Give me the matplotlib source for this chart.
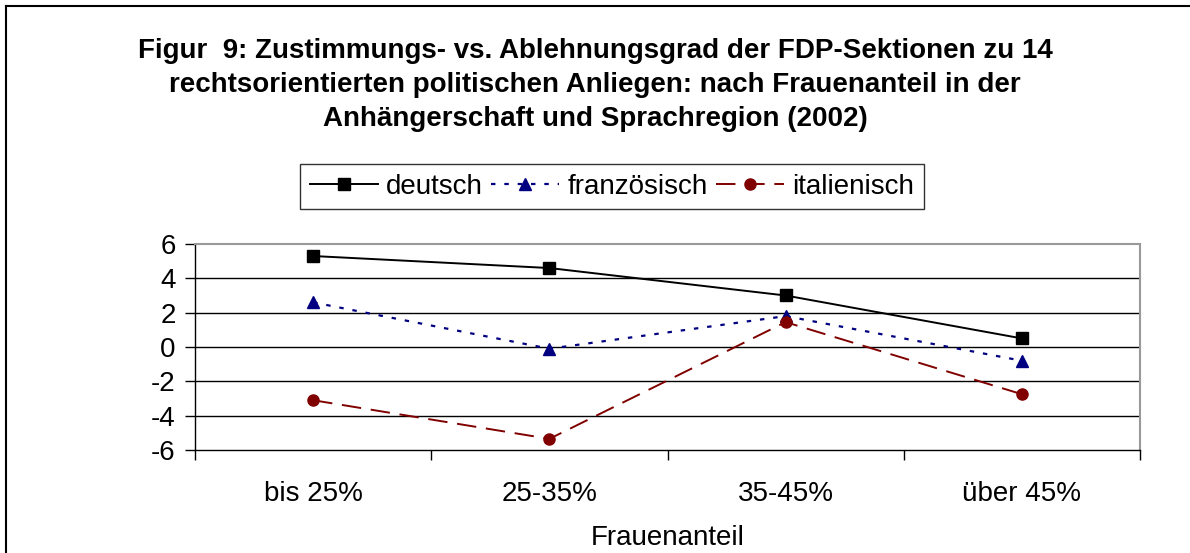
import matplotlib
matplotlib.use("Agg")
import matplotlib.pyplot as plt
from matplotlib.lines import Line2D

categories = ["bis 25%", "25-35%", "35-45%", "über 45%"]
deutsch = [5.3, 4.6, 3.0, 0.5]
franzoesisch = [2.6, -0.1, 1.8, -0.8]
italienisch = [-3.1, -5.35, 1.45, -2.75]
yticks = [-6, -4, -2, 0, 2, 4, 6]

plt.rcParams['font.family'] = ['Liberation Sans', 'DejaVu Sans']

fig = plt.figure(figsize=(11.9, 5.53), dpi=100)
ax = fig.add_axes([195/1190, 1 - 450/553, (1140-195)/1190, (450-244)/553])

x = list(range(len(categories)))
ax.plot(x, deutsch, color='black', lw=1.4, marker='s', ms=8, label='deutsch')
ax.plot(x, franzoesisch, color='#000080', lw=1.6, linestyle=(0, (2, 4)), marker='^', ms=9, label='französisch')
ax.plot(x, italienisch, color='#800000', lw=1.4, linestyle=(0, (10, 5)), marker='o', ms=8, label='italienisch')

ax.set_xlim(-0.5, 3.5)
ax.set_ylim(-6, 6)
ax.set_yticks(yticks)
ax.set_yticklabels([str(v) for v in yticks], fontsize=20)
for v in yticks[1:-1]:
    ax.axhline(v, color='black', lw=1, zorder=0)

ax.set_xticks([i - 0.5 for i in range(len(categories) + 1)])
ax.set_xticklabels([])
ax.set_xticks(x, minor=True)
ax.set_xticklabels(categories, minor=True, fontsize=20)
ax.tick_params(axis='x', which='minor', length=0, pad=22)
ax.tick_params(axis='x', which='major', length=7, direction='out', width=1)
ax.tick_params(axis='y', length=7, direction='out', width=1, pad=7)

for side in ['top', 'right']:
    ax.spines[side].set_color('#999999')
    ax.spines[side].set_linewidth(1.5)
for side in ['left', 'bottom']:
    ax.spines[side].set_color('black')
    ax.spines[side].set_linewidth(1)

ax.set_xlabel('Frauenanteil', fontsize=20, labelpad=13)

fig.text(0.5, 1 - 85/553, 'Figur  9: Zustimmungs- vs. Ablehnungsgrad der FDP-Sektionen zu 14\n'
         'rechtsorientierten politischen Anliegen: nach Frauenanteil in der\n'
         'Anhängerschaft und Sprachregion (2002)',
         ha='center', va='center', fontsize=20, fontweight='bold', linespacing=1.4)

leg = fig.legend(loc='center', bbox_to_anchor=(612/1190, 1 - 186.5/553), ncol=3, fontsize=20,
                 frameon=True, fancybox=False, edgecolor='black', handlelength=2.45,
                 handletextpad=0.3, columnspacing=0.3, borderpad=0.35, borderaxespad=0)
leg.get_frame().set_linewidth(1)

# figure border (left and top visible)
fig.add_artist(Line2D([6/1190, 6/1190], [0, 1 - 6/553], color='black', lw=1.5, transform=fig.transFigure))
fig.add_artist(Line2D([6/1190, 1], [1 - 6/553, 1 - 6/553], color='black', lw=1.5, transform=fig.transFigure))

fig.savefig('out.png', dpi=100)
